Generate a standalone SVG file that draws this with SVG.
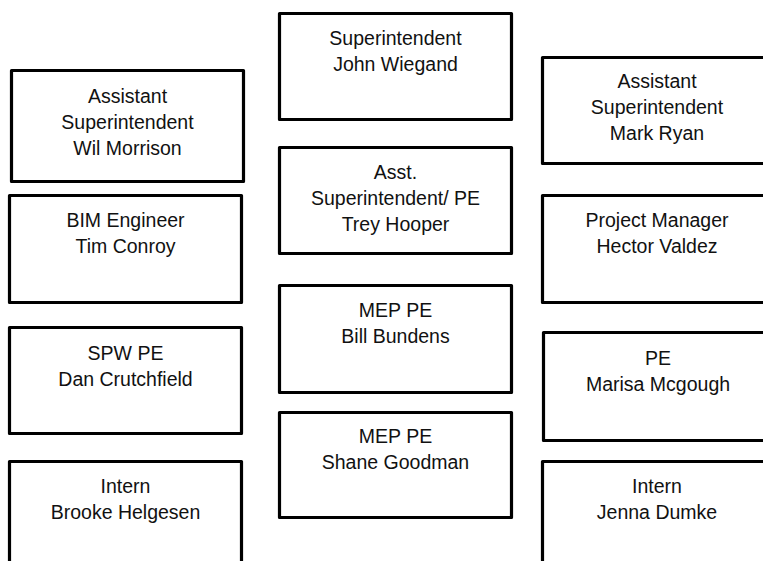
<svg xmlns="http://www.w3.org/2000/svg" width="763" height="561" viewBox="0 0 763 561">
<style>
.box{fill:#fff;stroke:#000;stroke-width:3.2;stroke-linejoin:round}
text{font-family:"Liberation Sans",Arial,sans-serif;font-size:19.5px;fill:#111;text-anchor:middle}
</style>
<rect width="763" height="561" fill="#fff"/>
<g id="connectors"/>
<g id="asst-sup-wil">
<rect class="box" x="11.5" y="70.5" width="232" height="111"/>
<text x="127.5" y="103">Assistant</text>
<text x="127.5" y="129">Superintendent</text>
<text x="127.5" y="155">Wil Morrison</text>
</g>
<g id="bim-tim">
<rect class="box" x="9.5" y="195.5" width="232" height="107"/>
<text x="125.5" y="227">BIM Engineer</text>
<text x="125.5" y="253">Tim Conroy</text>
</g>
<g id="spw-dan">
<rect class="box" x="9.5" y="327.5" width="232" height="106"/>
<text x="125.5" y="360">SPW PE</text>
<text x="125.5" y="386">Dan Crutchfield</text>
</g>
<g id="intern-brooke">
<rect class="box" x="9.5" y="461.5" width="232" height="120"/>
<text x="125.5" y="493">Intern</text>
<text x="125.5" y="519">Brooke Helgesen</text>
</g>
<g id="sup-john">
<rect class="box" x="279.5" y="13.5" width="232" height="106"/>
<text x="395.5" y="45">Superintendent</text>
<text x="395.5" y="71">John Wiegand</text>
</g>
<g id="asst-sup-trey">
<rect class="box" x="279.5" y="147.5" width="232" height="106"/>
<text x="395.5" y="179">Asst.</text>
<text x="395.5" y="205">Superintendent/ PE</text>
<text x="395.5" y="231">Trey Hooper</text>
</g>
<g id="mep-bill">
<rect class="box" x="279.5" y="285.5" width="232" height="107"/>
<text x="395.5" y="317">MEP PE</text>
<text x="395.5" y="343">Bill Bundens</text>
</g>
<g id="mep-shane">
<rect class="box" x="279.5" y="412.5" width="232" height="105"/>
<text x="395.5" y="443">MEP PE</text>
<text x="395.5" y="469">Shane Goodman</text>
</g>
<g id="asst-sup-mark">
<rect class="box" x="542.5" y="57.5" width="230" height="106"/>
<text x="657" y="88">Assistant</text>
<text x="657" y="114">Superintendent</text>
<text x="657" y="140">Mark Ryan</text>
</g>
<g id="pm-hector">
<rect class="box" x="542.5" y="195.5" width="230" height="107"/>
<text x="657" y="227">Project Manager</text>
<text x="657" y="253">Hector Valdez</text>
</g>
<g id="pe-marisa">
<rect class="box" x="543.5" y="332.5" width="230" height="108"/>
<text x="658" y="365">PE</text>
<text x="658" y="391">Marisa Mcgough</text>
</g>
<g id="intern-jenna">
<rect class="box" x="542.5" y="461.5" width="230" height="120"/>
<text x="657" y="493">Intern</text>
<text x="657" y="519">Jenna Dumke</text>
</g>
</svg>
